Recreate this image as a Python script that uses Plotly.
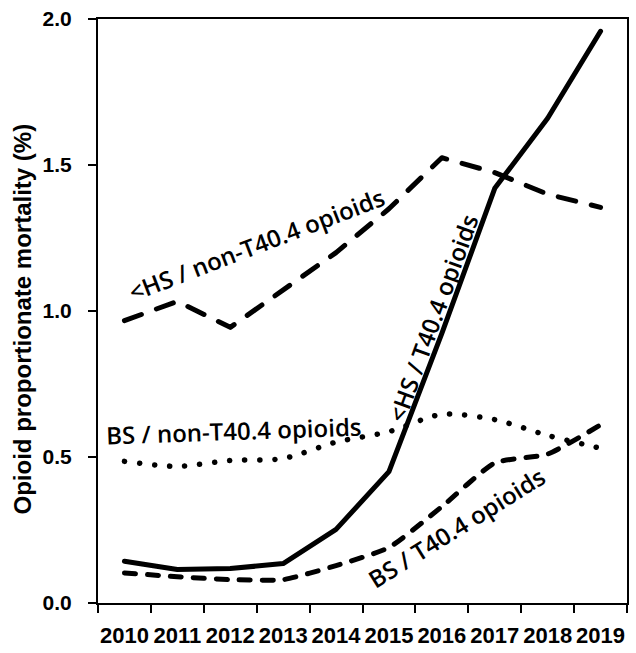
import plotly.graph_objects as go

years = ["2010", "2011", "2012", "2013", "2014", "2015", "2016", "2017", "2018", "2019"]

# <HS / T40.4 opioids (solid)
hs_t404 = [0.143, 0.115, 0.118, 0.135, 0.252, 0.45, 0.923, 1.42, 1.66, 1.958]
# <HS / non-T40.4 opioids (long dash)
hs_non = [0.967, 1.033, 0.944, 1.074, 1.20, 1.35, 1.525, 1.474, 1.40, 1.355]
# BS / non-T40.4 opioids (dotted)
bs_non = [0.485, 0.468, 0.488, 0.495, 0.551, 0.587, 0.646, 0.628, 0.574, 0.53]
# BS / T40.4 opioids (short dash)
bs_t404 = [0.103, 0.09, 0.08, 0.08, 0.128, 0.19, 0.33, 0.48, 0.51, 0.61]

y_ticks = [0.0, 0.5, 1.0, 1.5, 2.0]
y_ticklabels = ["0.0", "0.5", "1.0", "1.5", "2.0"]

fig = go.Figure()
fig.add_trace(go.Scatter(x=years, y=hs_non, mode="lines",
                         line=dict(color="black", width=5, dash="18px,16px")))
fig.add_trace(go.Scatter(x=years, y=bs_non, mode="lines",
                         line=dict(color="black", width=5.5, dash="0.1px,15px", shape="spline", smoothing=0.8)))
fig.add_trace(go.Scatter(x=years, y=bs_t404, mode="lines",
                         line=dict(color="black", width=5, dash="11px,12px", shape="spline", smoothing=0.5)))
fig.add_trace(go.Scatter(x=years, y=hs_t404, mode="lines",
                         line=dict(color="black", width=5)))

lab_font = dict(family="Open Sans", size=24, color="black", weight=600)
fig.add_annotation(x=2.487, y=1.227, text="<HS / non-T40.4 opioids", textangle=-21,
                   showarrow=False, font=lab_font)
fig.add_annotation(x=2.07, y=0.59, text="BS / non-T40.4 opioids", textangle=-2,
                   showarrow=False, font=lab_font)
fig.add_annotation(x=5.83, y=0.978, text="<HS / T40.4 opioids", textangle=-70,
                   showarrow=False, font=lab_font)
fig.add_annotation(x=6.27, y=0.259, text="BS / T40.4 opioids", textangle=-32,
                   showarrow=False, font=lab_font)
fig.add_annotation(x=0, xref="paper", y=0.5, yref="paper", xshift=-92, yshift=-8,
                   text="Opioid proportionate mortality (%)", textangle=-90,
                   showarrow=False,
                   font=dict(family="Liberation Sans, Arial", size=24, color="black", weight="bold"))

fig.update_layout(
    width=636, height=653,
    margin=dict(l=98, r=9, t=19, b=50, autoexpand=False),
    paper_bgcolor="white", plot_bgcolor="white",
    showlegend=False,
    xaxis=dict(type="category", range=[-0.5, 9.5], tickson="boundaries",
               ticks="outside", ticklen=8, tickwidth=2, tickcolor="black",
               showline=True, linecolor="black", linewidth=2, mirror=True,
               showgrid=False, zeroline=False, ticklabelstandoff=12,
               tickangle=0, automargin=False,
               tickfont=dict(family="Liberation Sans, Arial", size=22, color="black", weight="bold")),
    yaxis=dict(range=[0, 2.0], tickvals=y_ticks, ticktext=y_ticklabels,
               ticks="outside", ticklen=8, tickwidth=2, tickcolor="black",
               showline=True, linecolor="black", linewidth=2, mirror=True,
               showgrid=False, zeroline=False, ticklabelstandoff=12,
               automargin=False,
               tickfont=dict(family="Liberation Sans, Arial", size=21, color="black", weight="bold")),
)

post = """
var gd = document.getElementById('{plot_id}');
function roundCaps(){
  document.querySelectorAll('.scatterlayer path.js-line').forEach(function(p){
    p.style.strokeLinecap = 'round';
    p.style.strokeLinejoin = 'round';
  });
}
roundCaps();
if (gd && gd.on) { gd.on('plotly_afterplot', roundCaps); }
setTimeout(roundCaps, 50);
"""
fig.write_html("out.html", post_script=post)
